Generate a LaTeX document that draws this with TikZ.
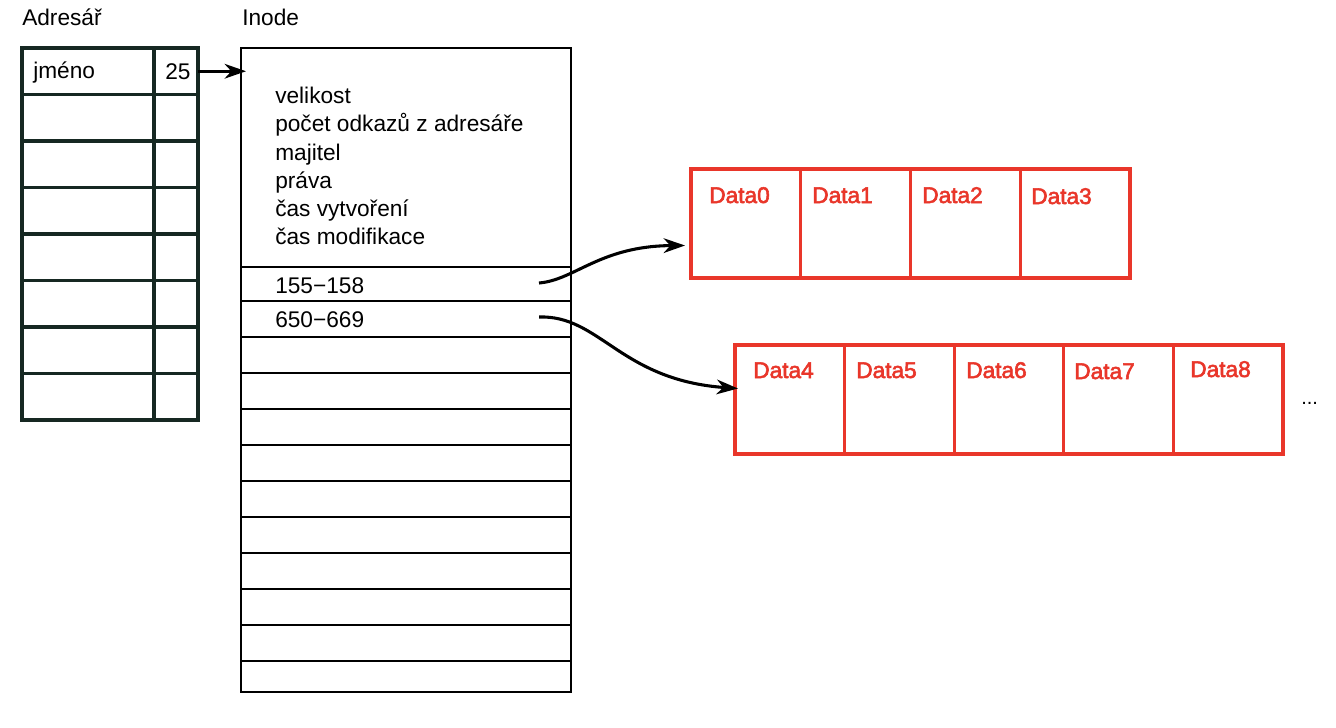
\documentclass[tikz,border=0pt]{standalone}
\usepackage{fontspec}
\setmainfont{Liberation Sans}
\newfontfamily\medfont[FakeBold=2.5]{Liberation Sans}
\usetikzlibrary{arrows.meta,calc}
\definecolor{dred}{RGB}{233,54,42}
\definecolor{dgreen}{RGB}{22,40,34}
\def\pxl{0.75pt}
\begin{document}
\begin{tikzpicture}[x=0.75pt,y=-0.75pt,
  txt/.style={font=\fontsize{17}{21}\selectfont, inner sep=0pt, anchor=base west},
  dlab/.style={inner sep=0pt, anchor=base west, text=dred, font=\medfont\fontsize{17}{21}\selectfont},
  acell/.style={draw=dgreen, line width=2.3pt, inner sep=0pt, outer sep=0pt, minimum height=46.5*\pxl},
  icell/.style={draw=black, line width=2.2pt, inner sep=0pt, outer sep=0pt, minimum width=330*\pxl},
  dbox/.style={draw=dred, line width=2.4pt, inner sep=0pt, outer sep=0pt, minimum height=109*\pxl},
  conn/.style={line width=2.3pt, -{Stealth[length=16pt,width=11pt,inset=5pt]}}
]
\fill[white] (0,0) rectangle (1336,728);
\useasboundingbox (0,0) rectangle (1336,728);

% headers
\node[txt] (hA) at (22,26) {Adresář};
\node[txt] (hI) at (242,26) {Inode};

% directory table
\foreach \i in {0,...,7} {
  \pgfmathsetmacro\yc{48+46.5*\i+23.25}
  \node[acell, minimum width=132*\pxl] (an\i) at (88,\yc) {};
  \node[acell, minimum width=44*\pxl] (av\i) at (176,\yc) {};
}
\node[txt] (jm) at (33,78) {jméno};
\node[txt] (num) at (165,79) {25};

% inode
\node[icell, minimum height=219*\pxl] (ih) at (406,157.5) {};
\foreach \t/\b [count=\k] in {267/301,301/337,337/373,373/409,409/445,445/481,481/517,517/553,553/589,589/625,625/661,661/692} {
  \pgfmathsetmacro\yc{(\t+\b)/2}
  \pgfmathsetmacro\hh{\b-\t}
  \node[icell, minimum height=\hh*\pxl] (ir\k) at (406,\yc) {};
}
\node[txt] (l1) at (275,103) {velikost};
\node[txt] (l2) at (275,131.5) {počet odkazů z adresáře};
\node[txt] (l3) at (275,160) {majitel};
\node[txt] (l4) at (275,188) {práva};
\node[txt] (l5) at (275,216.5) {čas vytvoření};
\node[txt] (l6) at (275,244) {čas modifikace};
\node[txt] (r1) at (275,293) {155−158};
\node[txt] (r2) at (275,327) {650−669};

% data blocks row 1
\foreach \i in {0,...,3} {
  \pgfmathsetmacro\xc{691+109.75*(\i+0.5)}
  \node[dbox, minimum width=109.75*\pxl] (d\i) at (\xc,223.5) {};
}
\node[dlab] (t0) at (709,203) {Data0};
\node[dlab] (t1) at (812,203) {Data1};
\node[dlab] (t2) at (922,203) {Data2};
\node[dlab] (t3) at (1031,204) {Data3};

% data blocks row 2
\foreach \i in {4,...,8} {
  \pgfmathsetmacro\xc{735+109.6*(\i-4+0.5)}
  \node[dbox, minimum width=109.6*\pxl] (d\i) at (\xc,399.5) {};
}
\node[dlab] (t4) at (753,378) {Data4};
\node[dlab] (t5) at (856,378) {Data5};
\node[dlab] (t6) at (966,378) {Data6};
\node[dlab] (t7) at (1074,379) {Data7};
\node[dlab] (t8) at (1190,377) {Data8};
\node[txt, font=\fontsize{15}{18}\selectfont] (ell) at (1301,404) {...};

% connectors
\draw[conn] (av0.east) -- ($(av0.east -| ih.west)+(5,0)$);
\coordinate (s1) at (539,283);
\coordinate (s2) at (539,317);
\draw[conn] (s1) .. controls (575,280) and (600,246) .. ([shift={(-6,22)}]d0.west);
\draw[conn] (s2) .. controls (600,315) and (620,380) .. ([shift={(3,-11)}]d4.west);
\end{tikzpicture}
\end{document}
